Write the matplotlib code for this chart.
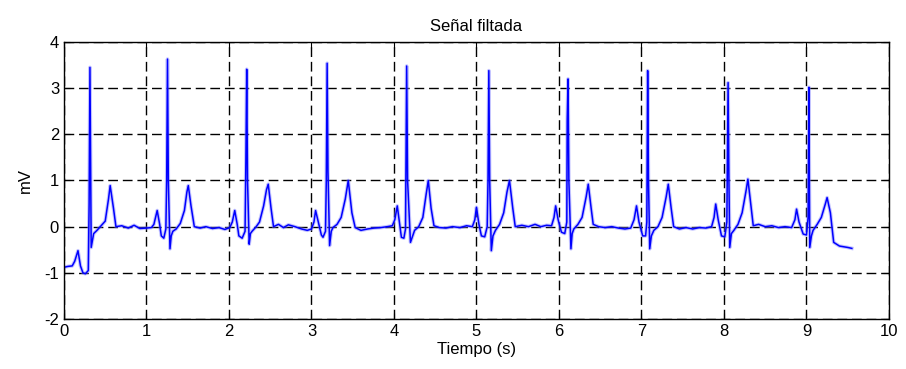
import matplotlib
matplotlib.use("Agg")
import matplotlib.pyplot as plt

# ECG trace (time in s, voltage in mV), one line per beat
tiempo = [
    0.00, 0.05, 0.10, 0.13, 0.17, 0.20, 0.23, 0.26, 0.28, 0.295, 0.305, 0.315, 0.322, 0.33, 0.36, 0.40, 0.45, 0.50, 0.54, 0.56, 0.60, 0.63,
    0.70, 0.78, 0.85, 0.92, 1.00, 1.06, 1.09,
    1.13, 1.16, 1.18, 1.21, 1.235, 1.245, 1.255, 1.265, 1.285, 1.30, 1.32, 1.36, 1.41, 1.46, 1.49, 1.507, 1.54, 1.58,
    1.65, 1.72, 1.80, 1.88, 1.95, 2.01, 2.04,
    2.07, 2.10, 2.12, 2.16, 2.195, 2.205, 2.215, 2.225, 2.245, 2.26, 2.28, 2.33, 2.37, 2.42, 2.455, 2.476, 2.51, 2.54,
    2.60, 2.66, 2.72, 2.80, 2.88, 2.95, 3.00, 3.03,
    3.05, 3.09, 3.12, 3.14, 3.17, 3.18, 3.19, 3.20, 3.22, 3.24, 3.26, 3.31, 3.36, 3.41, 3.446, 3.49, 3.53,
    3.60, 3.68, 3.76, 3.84, 3.92, 3.98, 4.01,
    4.04, 4.07, 4.09, 4.12, 4.14, 4.147, 4.154, 4.165, 4.20, 4.25, 4.30, 4.35, 4.39, 4.416, 4.45, 4.485,
    4.55, 4.63, 4.71, 4.80, 4.88, 4.95, 4.98,
    5.00, 5.03, 5.06, 5.10, 5.13, 5.14, 5.15, 5.16, 5.18, 5.20, 5.23, 5.28, 5.33, 5.37, 5.40, 5.44, 5.47,
    5.55, 5.63, 5.71, 5.78, 5.85, 5.91, 5.94,
    5.96, 5.99, 6.03, 6.07, 6.095, 6.10, 6.11, 6.12, 6.145, 6.16, 6.18, 6.23, 6.28, 6.33, 6.355, 6.39, 6.415,
    6.48, 6.56, 6.64, 6.72, 6.80, 6.87, 6.91,
    6.94, 6.97, 7.015, 7.05, 7.065, 7.075, 7.085, 7.10, 7.12, 7.15, 7.20, 7.25, 7.30, 7.325, 7.36, 7.39,
    7.46, 7.54, 7.62, 7.70, 7.78, 7.85, 7.88,
    7.90, 7.93, 7.97, 8.01, 8.035, 8.05, 8.06, 8.07, 8.09, 8.12, 8.17, 8.22, 8.27, 8.29, 8.33, 8.355,
    8.42, 8.50, 8.58, 8.66, 8.74, 8.82, 8.86,
    8.88, 8.91, 8.96, 9.00, 9.02, 9.03, 9.035, 9.04, 9.06, 9.08, 9.13, 9.18, 9.23, 9.25, 9.29, 9.33, 9.40, 9.47, 9.50, 9.55,
]
senal_mv = [
    -0.88, -0.86, -0.85, -0.75, -0.52, -0.85, -1.00, -1.02, -0.98, -0.95, 0.50, 3.45, 1.50, -0.45, -0.15, -0.08, 0.02, 0.12, 0.60, 0.89, 0.40, 0.00,
    0.02, -0.03, 0.03, -0.04, -0.03, -0.02, 0.05,
    0.35, 0.05, -0.20, -0.25, -0.05, 1.00, 3.63, 1.00, -0.48, -0.20, -0.10, -0.05, 0.07, 0.35, 0.75, 0.89, 0.45, 0.00,
    -0.03, 0.00, -0.04, -0.02, -0.06, -0.02, 0.10,
    0.35, 0.05, -0.20, -0.25, -0.10, 1.40, 3.41, 1.00, -0.38, -0.15, -0.10, 0.00, 0.10, 0.45, 0.80, 0.92, 0.40, 0.00,
    0.05, -0.02, 0.04, 0.00, -0.05, -0.08, -0.05, 0.10,
    0.35, 0.05, -0.18, -0.23, -0.10, 1.00, 3.54, 1.20, -0.41, -0.10, -0.02, 0.05, 0.20, 0.60, 1.00, 0.30, -0.02,
    -0.08, -0.05, -0.03, -0.02, 0.00, 0.02, 0.15,
    0.45, 0.05, -0.23, -0.25, -0.05, 1.90, 3.48, 1.00, -0.34, -0.08, 0.00, 0.20, 0.70, 1.00, 0.40, 0.02,
    -0.02, -0.03, 0.00, -0.02, 0.02, 0.00, 0.15,
    0.42, 0.05, -0.20, -0.22, 0.00, 1.00, 3.38, 1.00, -0.52, -0.20, -0.08, 0.05, 0.30, 0.75, 1.00, 0.40, 0.00,
    0.03, 0.00, 0.05, 0.00, 0.03, 0.02, 0.20,
    0.45, 0.15, -0.12, -0.15, 0.10, 2.30, 3.20, 1.00, -0.48, -0.15, -0.05, 0.05, 0.20, 0.65, 0.92, 0.40, 0.05,
    0.00, -0.02, 0.00, -0.03, -0.05, -0.03, 0.15,
    0.45, 0.10, -0.20, -0.20, 0.10, 3.38, 1.00, -0.48, -0.20, -0.08, 0.00, 0.20, 0.65, 0.92, 0.40, 0.00,
    -0.05, -0.02, -0.05, -0.02, -0.03, 0.00, 0.20,
    0.49, 0.15, -0.20, -0.22, 0.10, 3.12, 1.00, -0.45, -0.15, -0.08, 0.05, 0.30, 0.80, 1.03, 0.40, 0.02,
    0.05, 0.00, 0.02, -0.02, 0.00, -0.02, 0.15,
    0.38, 0.10, -0.16, -0.18, 0.20, 3.02, 1.00, -0.45, -0.20, -0.08, 0.05, 0.20, 0.50, 0.63, 0.30, -0.34, -0.42, -0.44, -0.45, -0.47,
]

x_ticks = [0, 1, 2, 3, 4, 5, 6, 7, 8, 9, 10]
y_ticks = [-2, -1, 0, 1, 2, 3, 4]

plt.rcParams['font.family'] = ['Liberation Sans', 'DejaVu Sans']
plt.rcParams['axes.unicode_minus'] = False

fig = plt.figure(figsize=(9.06, 3.69), dpi=100)
ax = fig.add_axes([0.0706, 0.1355, 0.9106, 0.7507])

# soft halo + main trace, like the scanned original
ax.plot(tiempo, senal_mv, color='#8080ff', linewidth=2.6, alpha=0.45, solid_joinstyle='round')
ax.plot(tiempo, senal_mv, color='#0000ff', linewidth=1.1)

ax.set_xlim(0, 10)
ax.set_ylim(-2, 4)
ax.set_xticks(x_ticks)
ax.set_yticks(y_ticks)
ax.grid(True, color='black', linestyle=(0, (7, 3.5)), linewidth=1.0)
ax.tick_params(direction='in', top=True, right=True, length=4, labelsize=12)
for s in ax.spines.values():
    s.set_linewidth(1.0)

ax.set_title('Señal filtada', fontsize=12, pad=8)
ax.set_xlabel('Tiempo (s)', fontsize=12, labelpad=2)
ax.set_ylabel('mV', fontsize=12, labelpad=8)

plt.savefig('out.png', dpi=100)
